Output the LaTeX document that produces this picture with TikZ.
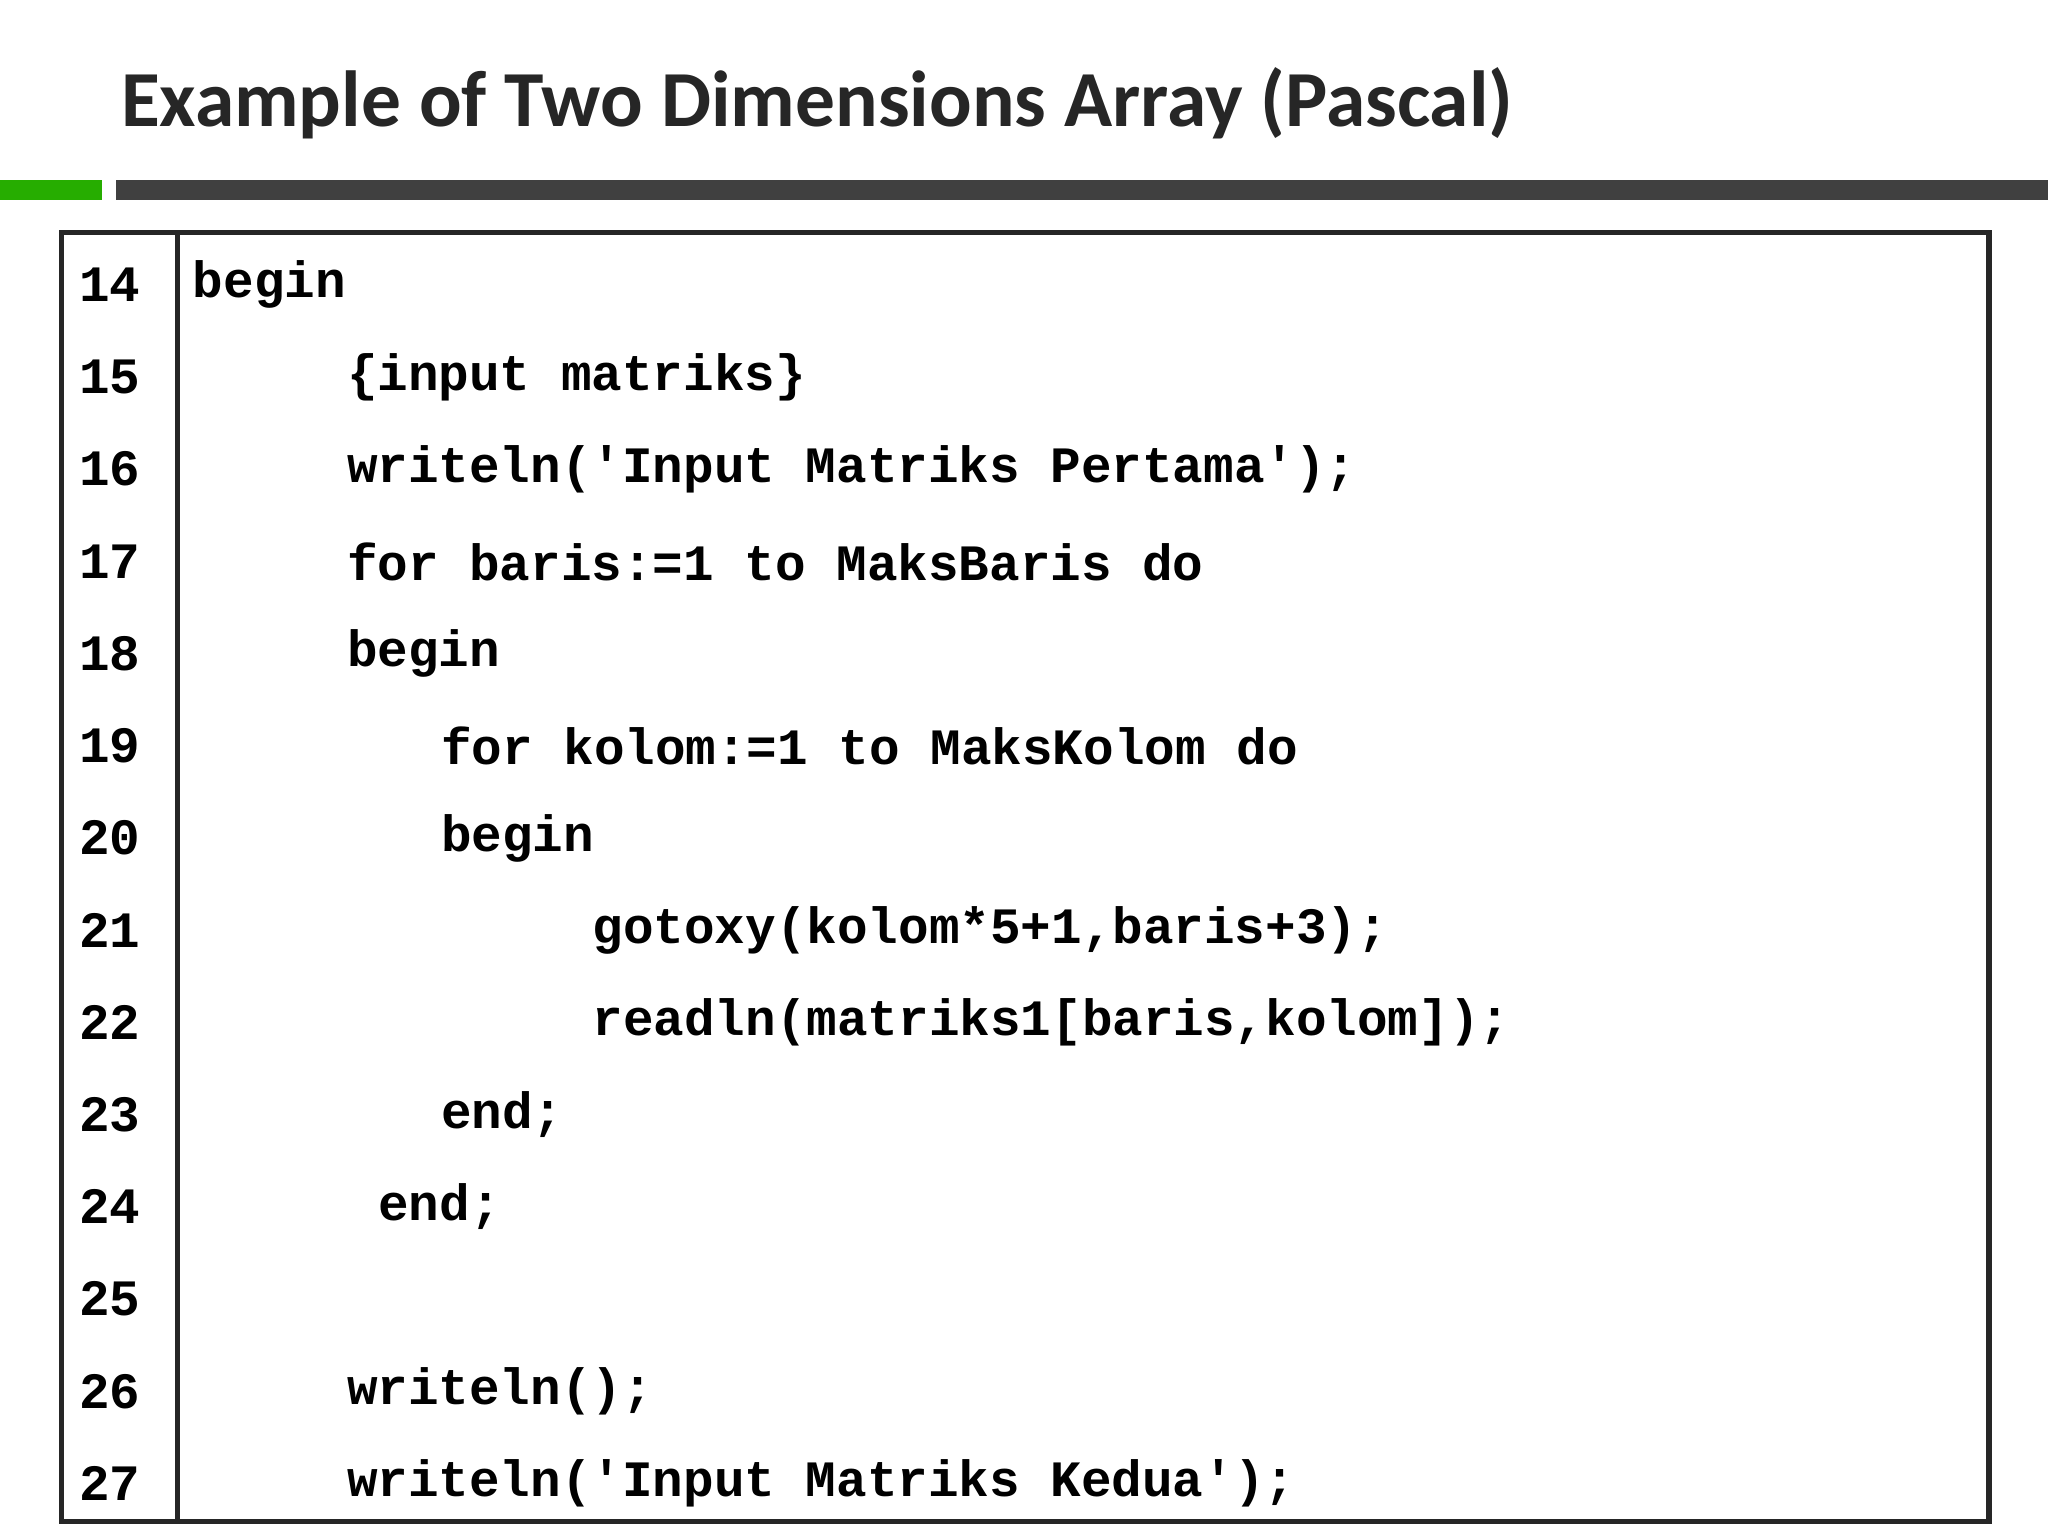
\documentclass[tikz,border=0pt]{standalone}
\usepackage{fontspec}
\setmainfont{Carlito}
\newfontfamily\codefont{Liberation Mono}
\begin{document}
\begin{tikzpicture}[x=0.01cm,y=-0.01cm,
  code/.style={anchor=west,inner sep=0pt,font=\codefont\bfseries\fontsize{11.1}{13}\selectfont}]
\useasboundingbox (0,0) rectangle (1568,1176);
\fill[white] (0,0) rectangle (1568,1176);
\node[anchor=base west,inner sep=0pt,font=\bfseries\fontsize{17.3}{21}\selectfont,text=black!85] (title) at (92,97) {Example of Two Dimensions Array (Pascal)};
\fill[green!60!black!80!lime] (0,138) rectangle (78,153);
\fill[black!75] (89,138) rectangle (1568,153);
\draw[line width=1.2pt,black!85] (47,178) rectangle (1523,1165);
\draw[line width=1.2pt,black!85] (136,178) -- (136,1165);
\foreach \n [count=\i from 0] in {14,...,27}{
  \node[code] (n\n) at (60,{218+70.6*\i}) {\n};
}
\node[code] (c14) at (147,218) {begin};
\node[code] (c15) at (265,289) {\{input matriks\}};
\node[code] (c16) at (265,359) {writeln('Input Matriks Pertama');};
\node[code] (c17) at (265,430) {for baris:=1 to MaksBaris do};
\node[code] (c18) at (265,500) {begin};
\node[code] (c19) at (337,571) {for kolom:=1 to MaksKolom do};
\node[code] (c20) at (337,642) {begin};
\node[code] (c21) at (453,712) {gotoxy(kolom*5+1,baris+3);};
\node[code] (c22) at (453,783) {readln(matriks1[baris,kolom]);};
\node[code] (c23) at (337,853) {end;};
\node[code] (c24) at (289,924) {end;};
\node[code] (c26) at (265,1065) {writeln();};
\node[code] (c27) at (265,1136) {writeln('Input Matriks Kedua');};
\end{tikzpicture}
\end{document}
